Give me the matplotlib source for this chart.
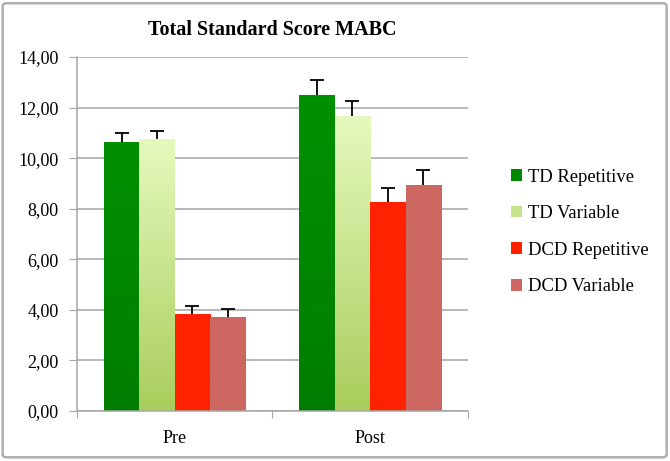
import numpy as np
import matplotlib
matplotlib.use('Agg')
import matplotlib.pyplot as plt
from matplotlib.colors import LinearSegmentedColormap
from matplotlib.patches import Patch, FancyBboxPatch

plt.rcParams['font.family'] = ['Liberation Serif', 'DejaVu Serif']

categories = ['Pre', 'Post']
series = ['TD Repetitive', 'TD Variable', 'DCD Repetitive', 'DCD Variable']
td_rep = [10.64, 12.49]
td_var = [10.74, 11.66]
dcd_rep = [3.84, 8.26]
dcd_var = [3.72, 8.94]
td_rep_err = [0.34, 0.60]
td_var_err = [0.34, 0.60]
dcd_rep_err = [0.31, 0.55]
dcd_var_err = [0.32, 0.59]

values = [td_rep, td_var, dcd_rep, dcd_var]
errors = [td_rep_err, td_var_err, dcd_rep_err, dcd_var_err]
# (top colour, bottom colour) for the vertical gradient fills
grads = [('#009000', '#007d00'), ('#e6f9bd', '#a9cd5c'),
         ('#ff2200', '#ff2200'), ('#cd6761', '#cd6761')]
legend_cols = ['#008800', '#c4e38c', '#ff2200', '#cd6761']

fig = plt.figure(figsize=(6.7, 4.61), dpi=100)
ax = fig.add_axes([0.1149, 0.1085, 0.5836, 0.7679])

x = np.arange(len(categories))
w = 0.1815
offsets = [-1.5, -0.5, 0.5, 1.5]
grad = np.linspace(0, 1, 256).reshape(-1, 1)

for vals, errs, (top, bot), off in zip(values, errors, grads, offsets):
    pos = x + off * w
    bars = ax.bar(pos, vals, width=w, color=bot, zorder=2, linewidth=0)
    cmap = LinearSegmentedColormap.from_list('g', [bot, top])
    for b in bars:
        bx, by = b.get_x(), b.get_y()
        im = ax.imshow(grad, extent=[bx, bx + b.get_width(), by, by + b.get_height()],
                       origin='lower', aspect='auto', cmap=cmap, zorder=2.1)
        im.set_clip_path(b)
    # plus-only error bars: stem + top cap
    tops = np.add(vals, errs)
    ax.vlines(pos, vals, tops, color='black', linewidth=1.3, zorder=3)
    ax.plot(pos, tops, linestyle='none', marker='_', markersize=10,
            markeredgewidth=1.3, color='black', zorder=3)

ax.set_xlim(-0.5, 1.5)
ax.set_ylim(0, 14)
ax.set_yticks(np.arange(0, 15, 2))
ax.set_yticklabels(['{:.2f}'.format(v).replace('.', ',') for v in np.arange(0, 15, 2)])
ax.yaxis.grid(True, color='#a6a6a6', linewidth=1.1, zorder=0)
ax.set_axisbelow(True)

ax.set_xticks([-0.5, 0.5, 1.5])
ax.set_xticklabels([])
ax.set_xticks(x, minor=True)
ax.set_xticklabels(categories, minor=True)
ax.tick_params(axis='x', which='minor', length=0, pad=14, labelsize=13)
ax.tick_params(axis='x', which='major', length=5, color='#a6a6a6', direction='out')
ax.tick_params(axis='y', length=6, color='#a6a6a6', labelsize=13, pad=7)

for s in ['top', 'right']:
    ax.spines[s].set_visible(False)
for s in ['left', 'bottom']:
    ax.spines[s].set_color('#a6a6a6')
    ax.spines[s].set_linewidth(1.1)

ax.set_title('Total Standard Score MABC', fontsize=14.5, fontweight='bold', pad=16)

handles = [Patch(facecolor=c, edgecolor='none') for c in legend_cols]
fig.legend(handles, series, loc='center left', bbox_to_anchor=(0.738, 0.497),
           frameon=False, fontsize=13.4, handlelength=0.6, handleheight=0.6,
           handletextpad=0.3, labelspacing=1.05)

border = FancyBboxPatch((0.004, 0.008), 0.991, 0.985, transform=fig.transFigure,
                        boxstyle='round,pad=0,rounding_size=0.006',
                        facecolor='none', edgecolor='#b0b0b0', linewidth=1.8)
fig.patches.append(border)

fig.savefig('out.png', dpi=100)
